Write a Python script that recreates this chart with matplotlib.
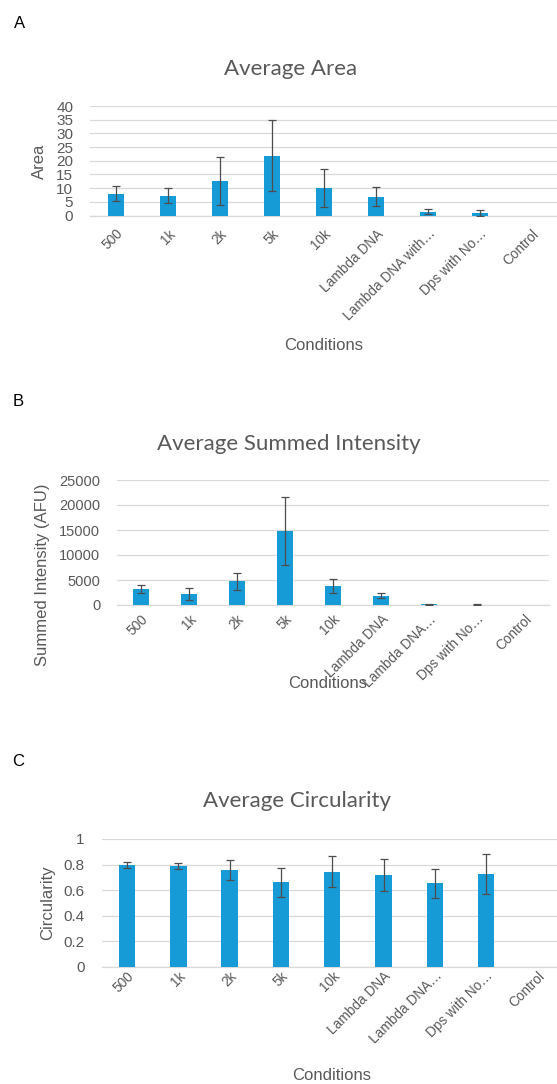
import matplotlib
matplotlib.use("Agg")
import matplotlib.pyplot as plt
import numpy as np
from matplotlib.ticker import FuncFormatter

# ---------------- data ----------------
cats_a = ["500", "1k", "2k", "5k", "10k", "Lambda DNA", "Lambda DNA with\u2026", "Dps with No\u2026", "Control"]
cats_bc = ["500", "1k", "2k", "5k", "10k", "Lambda DNA", "Lambda DNA\u2026", "Dps with No\u2026", "Control"]

area_mean = [8.0, 7.3, 12.6, 21.8, 10.0, 6.9, 1.4, 0.8, 0.0]
area_err = [2.7, 2.9, 8.8, 13.0, 7.0, 3.6, 0.9, 1.1, 0.0]

intensity_mean = [3300, 2300, 4750, 14800, 3850, 1900, 150, 90, 0]
intensity_err = [800, 1200, 1700, 6700, 1400, 450, 80, 60, 0]

circ_mean = [0.796, 0.788, 0.757, 0.660, 0.744, 0.718, 0.653, 0.726, 0.0]
circ_err = [0.025, 0.025, 0.080, 0.115, 0.120, 0.125, 0.115, 0.155, 0.0]

area_ticks = [0, 5, 10, 15, 20, 25, 30, 35, 40]
intensity_ticks = [0, 5000, 10000, 15000, 20000, 25000]
circ_ticks = [0, 0.2, 0.4, 0.6, 0.8, 1.0]

# ---------------- style ----------------
W, H = 557, 1084
DPI = 100
BAR = "#179BD7"
ERR = "#4d4d4d"
GRID = "#d9d9d9"
TXT = "#595959"
SANS = ["Liberation Sans", "DejaVu Sans"]
NARROW = ["Liberation Sans Narrow", "Liberation Sans", "DejaVu Sans"]
TITLEFONT = ["Lato", "DejaVu Sans"]

fig = plt.figure(figsize=(W / DPI, H / DPI), dpi=DPI)


def fx(x):
    return x / W


def fy(y):
    return 1 - y / H


def px_axes(left, right, top, bottom):
    return fig.add_axes([left / W, 1 - bottom / H, (right - left) / W, (bottom - top) / H])


def panel(ax, cats, mean, err, ticks, ytick_font, ytick_size, xpad, fmt=None):
    x = np.arange(len(cats))
    ax.bar(x, mean, width=0.32, color=BAR, zorder=3)
    idx = [i for i in range(len(cats)) if err[i] > 0]
    ax.errorbar([x[i] for i in idx], [mean[i] for i in idx], yerr=[err[i] for i in idx],
                fmt="none", ecolor=ERR, elinewidth=0.9, capsize=3.2, capthick=0.9, zorder=4)
    ax.set_xlim(-0.5, len(cats) - 0.5)
    ax.set_ylim(ticks[0], ticks[-1])
    ax.set_yticks(ticks)
    if fmt is not None:
        ax.yaxis.set_major_formatter(FuncFormatter(fmt))
    ax.grid(axis="y", color=GRID, linewidth=0.9, zorder=0)
    for s in ["top", "right", "left"]:
        ax.spines[s].set_visible(False)
    ax.spines["bottom"].set_color(GRID)
    ax.spines["bottom"].set_linewidth(0.9)
    ax.tick_params(axis="both", length=0, colors=TXT)
    ax.tick_params(axis="y", pad=12)
    ax.set_xticks(x)
    ax.set_xticklabels(cats, rotation=45, ha="right", rotation_mode="anchor",
                       fontsize=9.8, family=SANS, color=TXT)
    ax.tick_params(axis="x", pad=xpad)
    for lab in ax.get_yticklabels():
        lab.set_family(ytick_font)
        lab.set_fontsize(ytick_size)
        lab.set_color(TXT)


# Panel A
axA = px_axes(90, 558, 106, 215.5)
panel(axA, cats_a, area_mean, area_err, area_ticks, SANS, 11, 8)
fig.text(fx(39), fy(161), "Area", rotation=90, ha="center", va="center",
         fontsize=12, family=SANS, color=TXT)
fig.text(fx(324), fy(345), "Conditions", ha="center", va="center",
         fontsize=12, family=SANS, color=TXT)
fig.text(fx(291), fy(69), "Average Area", ha="center", va="center",
         fontsize=16, family=TITLEFONT, color=TXT)
fig.text(fx(20), fy(23), "A", ha="center", va="center", fontsize=12, color="black",
         family=SANS)

# Panel B
axB = px_axes(117, 549, 480, 605)
panel(axB, cats_bc, intensity_mean, intensity_err, intensity_ticks, NARROW, 10.5, 5)
fig.text(fx(43), fy(575), "Summed Intensity (AFU)", rotation=90, ha="center", va="center",
         fontsize=12, family=SANS, color=TXT)
fig.text(fx(328), fy(683), "Conditions", ha="center", va="center",
         fontsize=12, family=SANS, color=TXT)
fig.text(fx(289), fy(444), "Average Summed Intensity", ha="center", va="center",
         fontsize=16, family=TITLEFONT, color=TXT)
fig.text(fx(18), fy(401), "B", ha="center", va="center", fontsize=12, color="black",
         family=SANS)

# Panel C
axC = px_axes(101.5, 563, 839, 966.7)
panel(axC, cats_bc, circ_mean, circ_err, circ_ticks, SANS, 11, 1.5,
      fmt=lambda v, p: ("%g" % round(v, 2)))
fig.text(fx(48), fy(903), "Circularity", rotation=90, ha="center", va="center",
         fontsize=12, family=SANS, color=TXT)
fig.text(fx(332), fy(1075), "Conditions", ha="center", va="center",
         fontsize=12, family=SANS, color=TXT)
fig.text(fx(297), fy(801), "Average Circularity", ha="center", va="center",
         fontsize=16, family=TITLEFONT, color=TXT)
fig.text(fx(18), fy(761), "C", ha="center", va="center", fontsize=12, color="black",
         family=SANS)

fig.savefig("out.png", dpi=DPI, facecolor="white")
